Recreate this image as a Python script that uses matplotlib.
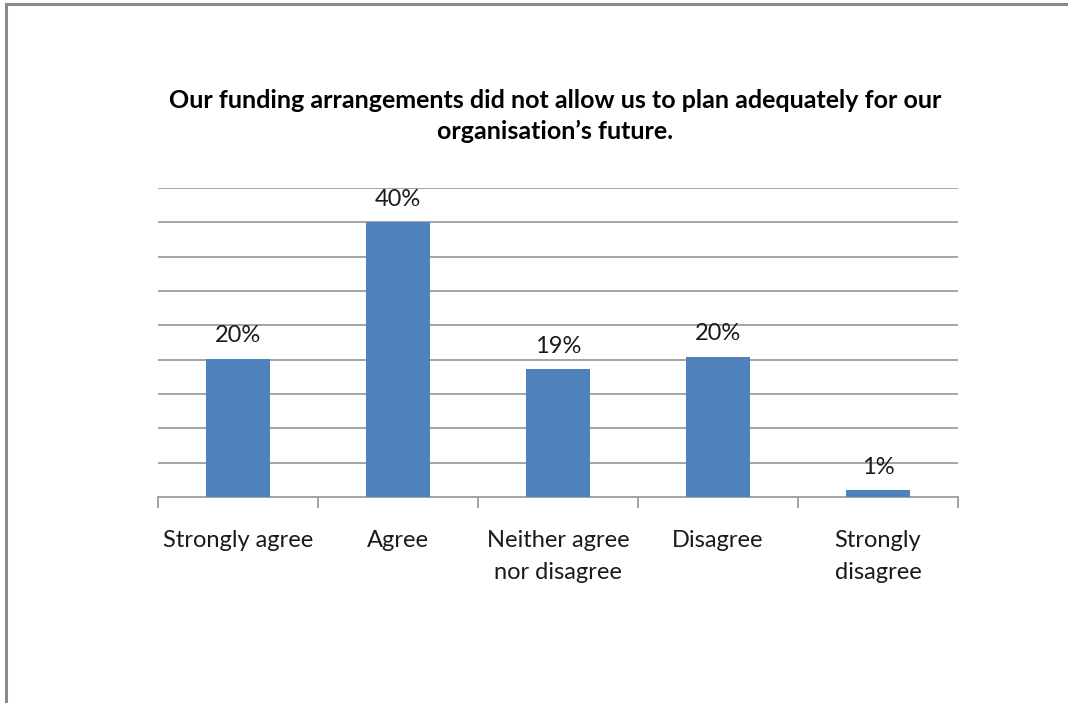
import matplotlib.pyplot as plt
from matplotlib.patches import Rectangle
import numpy as np

plt.rcParams["font.family"] = ["Lato", "DejaVu Sans"]

categories = ["Strongly agree", "Agree", "Neither agree\nnor disagree",
              "Disagree", "Strongly\ndisagree"]
shares = [20.1, 40.0, 18.6, 20.4, 1.0]
title = ("Our funding arrangements did not allow us to plan adequately for our\n"
         "organisation\u2019s future.")

bar_color = "#4F81BD"
grid_color = "#8C8C8C"
text_color = "#1A1A1A"

fig = plt.figure(figsize=(10.68, 7.03), dpi=100)
fig.patch.set_facecolor("white")

# chart-area frame (left and top edges show, the rest runs off the page)
fig.patches.append(Rectangle((6 / 1068, -0.05), 1.2, (703 - 4) / 703 + 0.05,
                             transform=fig.transFigure, fill=False,
                             edgecolor="#8A8A8A", linewidth=2.2))

ax = fig.add_axes([158 / 1068, 206 / 703, 800 / 1068, 309 / 703])
x = np.arange(len(categories))
ax.bar(x, shares, width=0.4, color=bar_color, zorder=3)

ax.set_xlim(-0.5, len(categories) - 0.5)
ax.set_ylim(0, 45)
ax.set_yticks(np.arange(5, 46, 5))
ax.yaxis.grid(True, color=grid_color, linewidth=1.1)
ax.tick_params(axis="y", left=False, labelleft=False)
for side in ("left", "right", "top"):
    ax.spines[side].set_visible(False)
ax.spines["bottom"].set_color(grid_color)
ax.spines["bottom"].set_linewidth(1.1)

ax.set_xticks(x)
ax.set_xticklabels(categories, fontsize=17, color=text_color, linespacing=1.6)
ax.tick_params(axis="x", which="major", length=0, pad=24)
ax.set_xticks(np.arange(-0.5, len(categories)), minor=True)
ax.tick_params(axis="x", which="minor", length=8, width=1.1, color=grid_color)

for xi, v in zip(x, shares):
    ax.annotate(f"{v:.0f}%", (xi, v), xytext=(0, 9), textcoords="offset points",
                ha="center", va="bottom", fontsize=17, color=text_color, zorder=4)

fig.text(555 / 1068, 1 - 116 / 703, title, ha="center", va="center",
         fontsize=18, fontweight="bold", linespacing=1.45, color="black")

fig.savefig("out.png", dpi=100)
